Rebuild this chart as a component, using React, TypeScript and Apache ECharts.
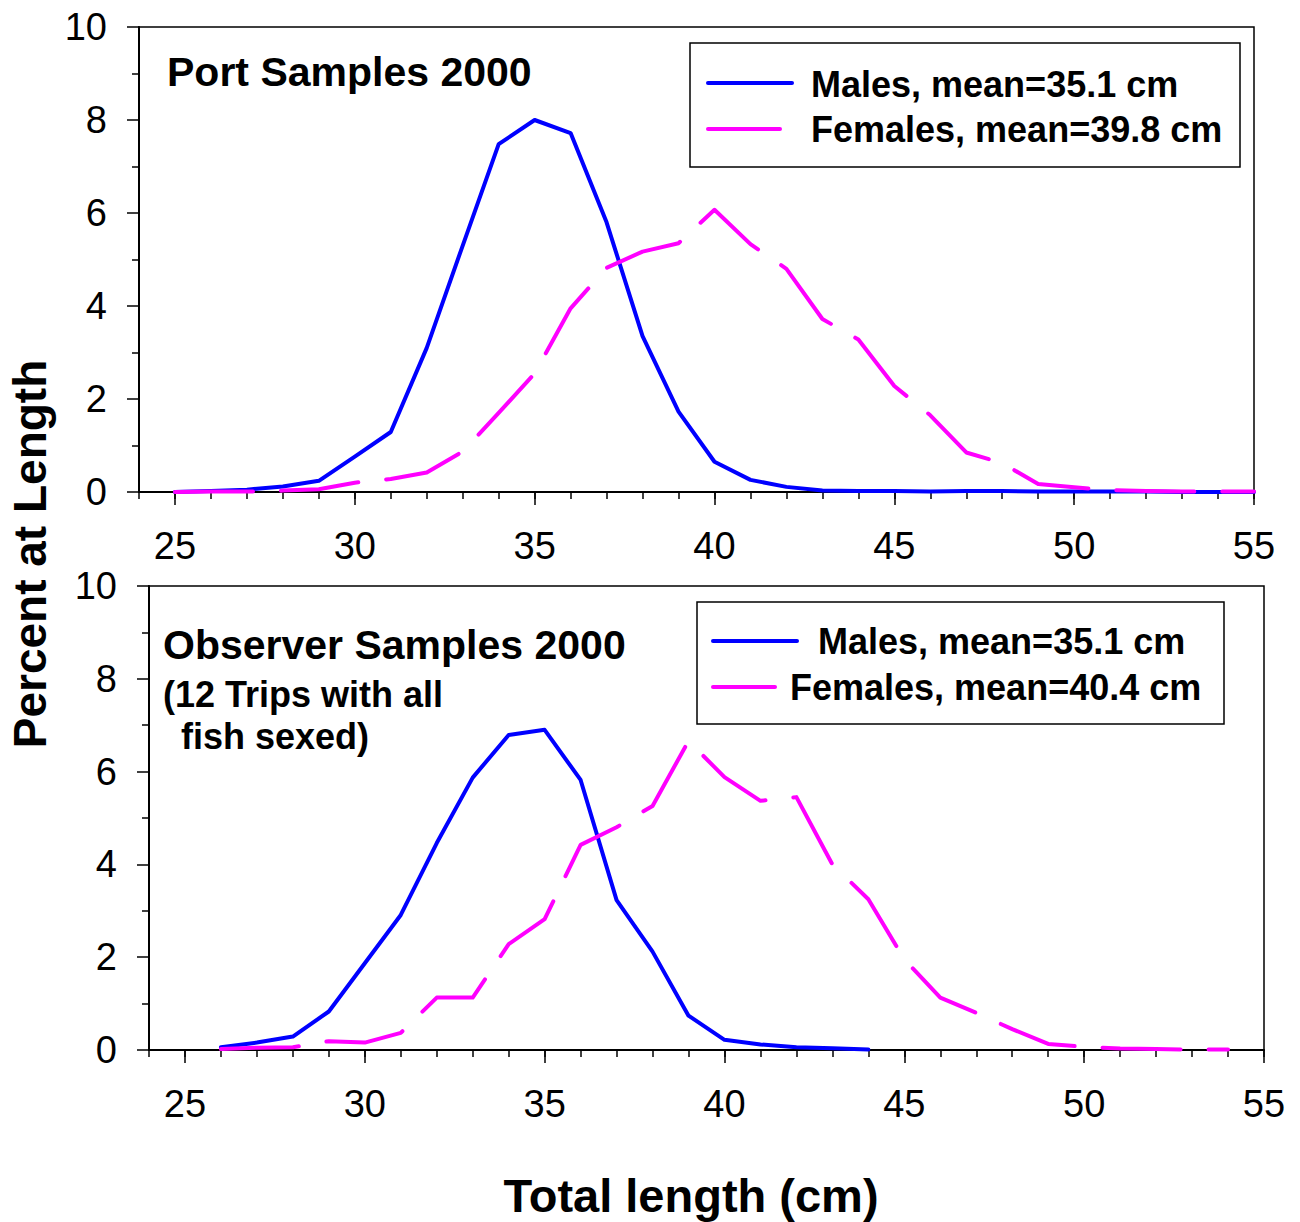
import React, { useEffect, useRef } from 'react';
import * as echarts from 'echarts';

// ---- data ----
const portLengths = [25, 26, 27, 28, 29, 30, 31, 32, 33, 34, 35, 36, 37, 38, 39, 40, 41, 42, 43, 44, 45, 46, 47, 48, 49, 50, 51, 52, 53, 54, 55];
const portMales = [0, 0.02, 0.05, 0.12, 0.24, 0.76, 1.29, 3.1, 5.3, 7.48, 8.0, 7.72, 5.8, 3.35, 1.73, 0.65, 0.26, 0.11, 0.03, 0.02, 0.02, 0.01, 0.02, 0.02, 0.01, 0.01, 0.01, 0.01, 0, 0, 0];
const portFemales = [0, 0.01, 0.01, 0.03, 0.06, 0.2, 0.28, 0.42, 0.87, 1.7, 2.55, 3.95, 4.82, 5.17, 5.35, 6.07, 5.33, 4.8, 3.72, 3.28, 2.28, 1.65, 0.85, 0.62, 0.17, 0.1, 0.04, 0.02, 0.01, 0.01, 0.01];

const obsMaleLengths = [26, 27, 28, 29, 30, 31, 32, 33, 34, 35, 36, 37, 38, 39, 40, 41, 42, 43, 44];
const obsMales = [0.06, 0.16, 0.29, 0.83, 1.87, 2.91, 4.46, 5.87, 6.79, 6.9, 5.82, 3.23, 2.12, 0.74, 0.22, 0.12, 0.06, 0.04, 0.01];
const obsFemaleLengths = [26, 27, 28, 29, 30, 31, 32, 33, 34, 35, 36, 37, 38, 39, 40, 41, 42, 43, 44, 45, 46, 47, 48, 49, 50, 51, 52, 53, 54];
const obsFemales = [0.02, 0.05, 0.06, 0.19, 0.16, 0.37, 1.13, 1.13, 2.28, 2.82, 4.42, 4.8, 5.26, 6.66, 5.88, 5.37, 5.45, 4.0, 3.25, 1.95, 1.13, 0.8, 0.45, 0.13, 0.07, 0.03, 0.02, 0.01, 0.01];

const majorXTicks = [25, 30, 35, 40, 45, 50, 55];
const topTitle = 'Port Samples 2000';
const bottomTitle = 'Observer Samples 2000';
const bottomSub1 = '(12 Trips with all';
const bottomSub2 = 'fish sexed)';
const topLegend = ['Males, mean=35.1 cm', 'Females, mean=39.8 cm'];
const bottomLegend = ['Males, mean=35.1 cm', 'Females, mean=40.4 cm'];
const yTitle = 'Percent at Length';
const xTitle = 'Total length (cm)';

const FONT = '"Liberation Sans", Arial, sans-serif';
const BLUE = '#0000ff';
const MAGENTA = '#ff00ff';

const pairs = (xs: number[], ys: number[]) => xs.map((x, i) => [x, ys[i]]);

function xAxesFor(gridIndex: number) {
  return [
    {
      type: 'value', gridIndex, min: 24, max: 55, interval: 1,
      axisLine: { show: true, onZero: false, lineStyle: { color: '#000', width: 2 } },
      axisTick: { show: true, length: 7, lineStyle: { color: '#000', width: 1.5 } },
      axisLabel: {
        show: true, margin: 35, fontSize: 38, fontFamily: FONT, color: '#000',
        formatter: (v: number) => (v % 5 === 0 ? String(v) : ''),
      },
      splitLine: { show: false },
    },
    {
      type: 'value', gridIndex, min: 24, max: 55, position: 'bottom',
      axisLine: { show: false, onZero: false },
      axisTick: { show: true, length: 13, customValues: majorXTicks, lineStyle: { color: '#000', width: 1.5 } },
      axisLabel: { show: false },
      splitLine: { show: false },
    },
  ];
}

function yAxisFor(gridIndex: number) {
  return {
    type: 'value', gridIndex, min: 0, max: 10, interval: 2,
    axisLine: { show: true, lineStyle: { color: '#000', width: 2 } },
    axisTick: { show: true, length: 12, lineStyle: { color: '#000', width: 1.5 } },
    minorTick: { show: true, splitNumber: 2, length: 7, lineStyle: { color: '#000', width: 1.5 } },
    axisLabel: { margin: 32, fontSize: 38, fontFamily: FONT, color: '#000' },
    splitLine: { show: false },
    minorSplitLine: { show: false },
  };
}

function text(x: number, y: number, t: string, size: number, bold: boolean, align = 'left', extra: any = {}) {
  const font = `${bold ? 'bold ' : ''}${size}px ${FONT}`;
  return {
    type: 'text', x, y, z: 100, ...extra,
    style: { text: t, font, fill: '#000', textAlign: align, textVerticalAlign: 'middle', align, verticalAlign: 'middle' },
  };
}

function line(x1: number, x2: number, y: number, color: string) {
  return {
    type: 'line', z: 100,
    shape: { x1, y1: y, x2, y2: y },
    style: { stroke: color, lineWidth: 4, lineCap: 'round' },
  };
}

function box(x: number, y: number, w: number, h: number) {
  return {
    type: 'rect', z: 90,
    shape: { x, y, width: w, height: h },
    style: { fill: '#fff', stroke: '#000', lineWidth: 1.5 },
  };
}

export default function App() {
  const ref = useRef<HTMLDivElement>(null);
  useEffect(() => {
    document.body.style.margin = '0';
    const chart = echarts.init(ref.current!, undefined, { renderer: 'svg' });
    const lineBase = (xi: number, yi: number, data: any, color: string, dashed: boolean) => ({
      type: 'line', xAxisIndex: xi, yAxisIndex: yi, data, showSymbol: false, symbol: 'none',
      lineStyle: { color, width: 4, cap: 'round', join: 'round', type: dashed ? [78, 28] : 'solid' },
      z: dashed ? 3 : 2,
    });
    chart.setOption({
      animation: false,
      backgroundColor: '#fff',
      grid: [
        { left: 139, top: 27, width: 1115, height: 465, show: true, borderColor: '#000', borderWidth: 1.5, backgroundColor: 'transparent' },
        { left: 149, top: 586, width: 1115, height: 464, show: true, borderColor: '#000', borderWidth: 1.5, backgroundColor: 'transparent' },
      ],
      xAxis: [...xAxesFor(0), ...xAxesFor(1)],
      yAxis: [yAxisFor(0), yAxisFor(1)],
      series: [
        lineBase(0, 0, pairs(portLengths, portMales), BLUE, false),
        lineBase(0, 0, pairs(portLengths, portFemales), MAGENTA, true),
        lineBase(2, 1, pairs(obsMaleLengths, obsMales), BLUE, false),
        lineBase(2, 1, pairs(obsFemaleLengths, obsFemales), MAGENTA, true),
      ],
      graphic: [
        text(167, 72, topTitle, 41, true),
        text(163, 645, bottomTitle, 41, true),
        text(163, 694, bottomSub1, 36, true),
        text(181, 736, bottomSub2, 36, true),
        box(690, 43, 550, 124),
        line(708, 792, 83, BLUE),
        line(708, 780, 129, MAGENTA),
        text(811, 84, topLegend[0], 36, true),
        text(811, 129, topLegend[1], 36, true),
        box(697, 602, 527, 122),
        line(713, 797, 641, BLUE),
        line(713, 775, 687, MAGENTA),
        text(818, 641, bottomLegend[0], 36, true),
        text(790, 687, bottomLegend[1], 36, true),
        text(30, 554, yTitle, 46, true, 'center', { rotation: Math.PI / 2 }),
        text(691, 1195, xTitle, 47, true, 'center'),
      ],
    });
    return () => chart.dispose();
  }, []);
  return <div ref={ref} style={{ width: 1300, height: 1222 }} />;
}
